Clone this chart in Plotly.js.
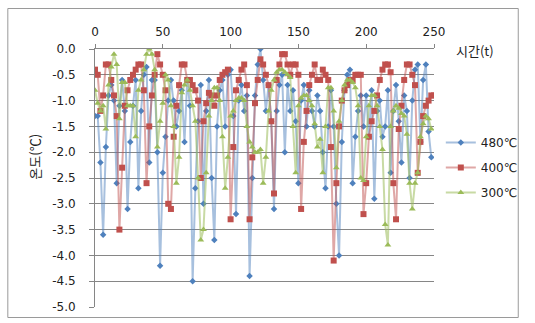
<!DOCTYPE html>
<html>
<head>
<meta charset="utf-8">
<script src="https://cdn.plot.ly/plotly-3.0.1.min.js"></script>
<style>html,body{margin:0;padding:0;background:#fff;}#chart{width:535px;height:323px;}</style>
</head>
<body>
<div id="chart"></div>
<script>
// Time step between samples (t axis)
var timeStep = 2;

// 480℃ series (t = 0, 2, 4, ...)
var temp480 = [
-1.3,-1.3,-2.2,-3.6,-1.9,-0.9,-0.7,-1.0,-2.6,-1.1,
-0.6,-1.2,-3.1,-1.8,-1.1,-0.6,-2.7,-1.2,-0.5,-0.35,
-2.2,-0.6,-0.6,-2.0,-4.2,-2.4,-1.7,-1.0,-0.6,-1.0,
-1.5,-1.2,-0.8,-1.8,-0.6,-1.1,-4.5,-2.7,-1.4,-0.7,
-3.0,-1.2,-0.6,-2.5,-3.7,-1.5,-0.8,-0.6,-1.5,-0.5,
-0.4,-1.3,-3.2,-1.0,-0.7,-1.2,-0.9,-4.4,-2.5,-0.9,
-0.3,0.0,-0.6,-1.2,-0.7,-1.4,-3.1,-1.2,-0.7,-0.5,
-2.0,-0.7,-1.2,-0.8,-1.4,-2.6,-1.0,-0.7,-1.5,-0.8,
-1.2,-1.5,-0.9,-1.2,-2.0,-2.7,-1.5,-0.8,-1.5,-3.0,
-4.0,-1.8,-0.8,-0.5,-0.4,-2.6,-1.7,-1.2,-0.9,-1.5,
-0.9,-1.7,-0.8,-2.9,-1.2,-1.0,-1.7,-1.5,-0.8,-2.4,
-1.2,-0.7,-1.4,-2.2,-0.9,-1.2,-2.5,-1.0,-0.4,-0.3,
-1.8,-0.6,-0.3,-1.6,-2.1
];

// 400℃ series
var temp400 = [
-0.4,-0.5,-1.2,-0.9,-0.3,-0.3,-0.6,-0.9,-1.3,-3.5,
-2.3,-1.1,-0.8,-0.6,-0.5,-0.4,-0.3,-0.3,-0.8,-2.6,
-1.5,-0.9,-0.5,-0.1,-0.3,-0.5,-0.8,-3.0,-3.1,-1.7,
-1.1,-0.7,-0.3,-0.3,-0.6,-0.6,-0.7,-0.8,-1.0,-2.5,
-1.4,-1.05,-0.85,-0.9,-1.1,-0.9,-0.6,-0.5,-0.45,-0.4,
-3.3,-1.9,-0.8,-0.6,-0.4,-0.3,-0.7,-3.3,-2.1,-1.05,
-0.6,-0.2,-0.3,-0.5,-0.7,-1.4,-2.8,-0.6,-0.3,-0.1,
-0.1,-0.3,-0.5,-0.3,-0.3,-0.5,-3.1,-1.8,-1.2,-0.7,
-0.5,-0.3,-0.6,-0.6,-0.4,-0.5,-0.6,-1.9,-4.1,-2.6,
-1.5,-1.0,-0.8,-0.7,-0.6,-0.6,-0.5,-0.5,-0.5,-3.2,
-2.6,-1.7,-1.4,-1.2,-0.9,-0.6,-0.4,-0.3,-0.3,-0.45,
-2.6,-3.3,-1.55,-1.1,-0.6,-0.3,-0.3,-0.5,-0.7,-2.4,
-1.8,-1.3,-1.1,-1.0,-0.9,-0.9
];

// 300℃ series
var temp300 = [
-0.8,-1.05,-1.2,-1.1,-1.55,-0.7,-0.35,-0.1,-0.3,-1.35,
-0.65,-0.65,-1.1,-1.1,-1.1,-1.7,-0.8,-0.6,-0.4,-0.1,
0.0,-0.1,-0.4,-1.9,-1.4,-1.05,-0.5,-0.6,-1.1,-1.5,
-2.6,-2.1,-0.85,-0.7,-0.6,-0.8,-1.1,-1.4,-2.5,-3.7,
-3.5,-2.4,-1.3,-1.0,-0.75,-0.75,-1.0,-1.7,-2.7,-2.1,
-1.3,-1.2,-1.0,-0.95,-0.95,-1.0,-1.5,-1.8,-1.9,-2.0,
-2.0,-1.95,-2.6,-2.1,-1.2,-0.8,-0.6,-0.45,-0.4,-0.4,
-0.45,-0.5,-0.55,-1.5,-2.4,-1.1,-0.95,-0.9,-0.9,-1.0,
-1.1,-1.45,-1.9,-1.75,-2.4,-1.5,-0.75,-0.75,-1.2,-2.3,
-1.4,-1.0,-0.7,-0.6,-0.6,-0.65,-0.75,-1.1,-2.5,-2.55,
-1.7,-1.1,-0.9,-0.9,-1.1,-1.5,-1.95,-3.4,-3.8,-1.5,
-1.2,-1.1,-1.15,-1.25,-1.3,-1.65,-2.6,-3.1,-2.6,-2.4,
-1.7,-1.45,-1.3,-1.35,-1.55
];

var seriesNames = ['480℃', '400℃', '300℃'];
var xTickVals = [0, 50, 100, 150, 200, 250];
var xTickText = ['0', '50', '100', '150', '200', '250'];
var yTickVals = [0, -0.5, -1, -1.5, -2, -2.5, -3, -3.5, -4, -4.5, -5];
var yTickText = ['0.0', '-0.5', '-1.0', '-1.5', '-2.0', '-2.5', '-3.0', '-3.5', '-4.0', '-4.5', '-5.0'];
var xTitle = '시간(t)';
var yTitle = '온도(℃)';

var L = 95, R = 443, T = 49, B = 307, W = 535, H = 323;
function px2paperX(p){ return (p - L) / (R - L); }
function px2paperY(p){ return (B - p) / (B - T); }

var traces = [
  {y: temp480, name: seriesNames[0], color: '#4F81BD', line: 'rgba(79,129,189,0.5)', symbol: 'diamond', size: 5},
  {y: temp400, name: seriesNames[1], color: '#C0504D', line: 'rgba(192,80,77,0.5)', symbol: 'square', size: 6},
  {y: temp300, name: seriesNames[2], color: '#9BBB59', line: 'rgba(155,187,89,0.55)', symbol: 'triangle-up', size: 6}
].map(function(s, i){
  return {
    type: 'scatter', mode: 'lines+markers',
    x0: 0, dx: timeStep, y: s.y, name: s.name,
    legendgroup: 'g' + i,
    line: {color: s.line, width: 2},
    marker: {color: s.color, symbol: s.symbol, size: s.size, line: {width: 0}}
  };
});

var font = 'DejaVu Sans, Verdana, sans-serif';
var layout = {
  width: W, height: H,
  margin: {l: L, r: W - R, t: T, b: H - B, pad: 0},
  paper_bgcolor: '#fff', plot_bgcolor: '#fff',
  showlegend: true,
  font: {family: font, size: 12, color: '#222'},
  xaxis: {
    side: 'top', range: [0, 250], tickvals: xTickVals, ticktext: xTickText,
    showgrid: false, zeroline: false, showline: true, linecolor: '#868686', linewidth: 1,
    ticks: 'outside', ticklen: 4, tickcolor: '#868686', ticklabelstandoff: 3,
    tickfont: {family: font, size: 12, color: '#222'}
  },
  yaxis: {
    range: [-5, 0], tickvals: yTickVals, ticktext: yTickText,
    showgrid: true, gridcolor: '#868686', gridwidth: 1, zeroline: false,
    showline: true, linecolor: '#868686', linewidth: 1,
    ticks: 'outside', ticklen: 5, tickcolor: '#868686', ticklabelstandoff: 11,
    tickfont: {family: font, size: 12, color: '#222'}
  },
  legend: {
    x: px2paperX(450), y: px2paperY(128), xanchor: 'left', yanchor: 'top',
    traceorder: 'grouped', tracegroupgap: 6, bgcolor: 'rgba(0,0,0,0)',
    font: {family: font, size: 12, color: '#222'}, itemwidth: 30
  },
  annotations: [
    {text: xTitle, xref: 'paper', yref: 'paper', x: px2paperX(464), y: px2paperY(50),
     xanchor: 'left', yanchor: 'middle', showarrow: false,
     font: {family: 'Noto Sans CJK KR, sans-serif', size: 13, color: '#222'}},
    {text: yTitle, xref: 'paper', yref: 'paper', x: px2paperX(32), y: px2paperY(157),
     xanchor: 'center', yanchor: 'middle', showarrow: false, textangle: -90,
     font: {family: 'Noto Sans CJK KR, sans-serif', size: 13, color: '#222'}}
  ],
  shapes: [
    {type: 'rect', xref: 'paper', yref: 'paper',
     x0: px2paperX(5.5), x1: px2paperX(529.5), y0: px2paperY(317.5), y1: px2paperY(8.5),
     line: {color: '#9a9a9a', width: 1}, fillcolor: 'rgba(0,0,0,0)', layer: 'below'}
  ]
};

Plotly.newPlot('chart', traces, layout, {displayModeBar: false, staticPlot: true});
</script>
</body>
</html>
